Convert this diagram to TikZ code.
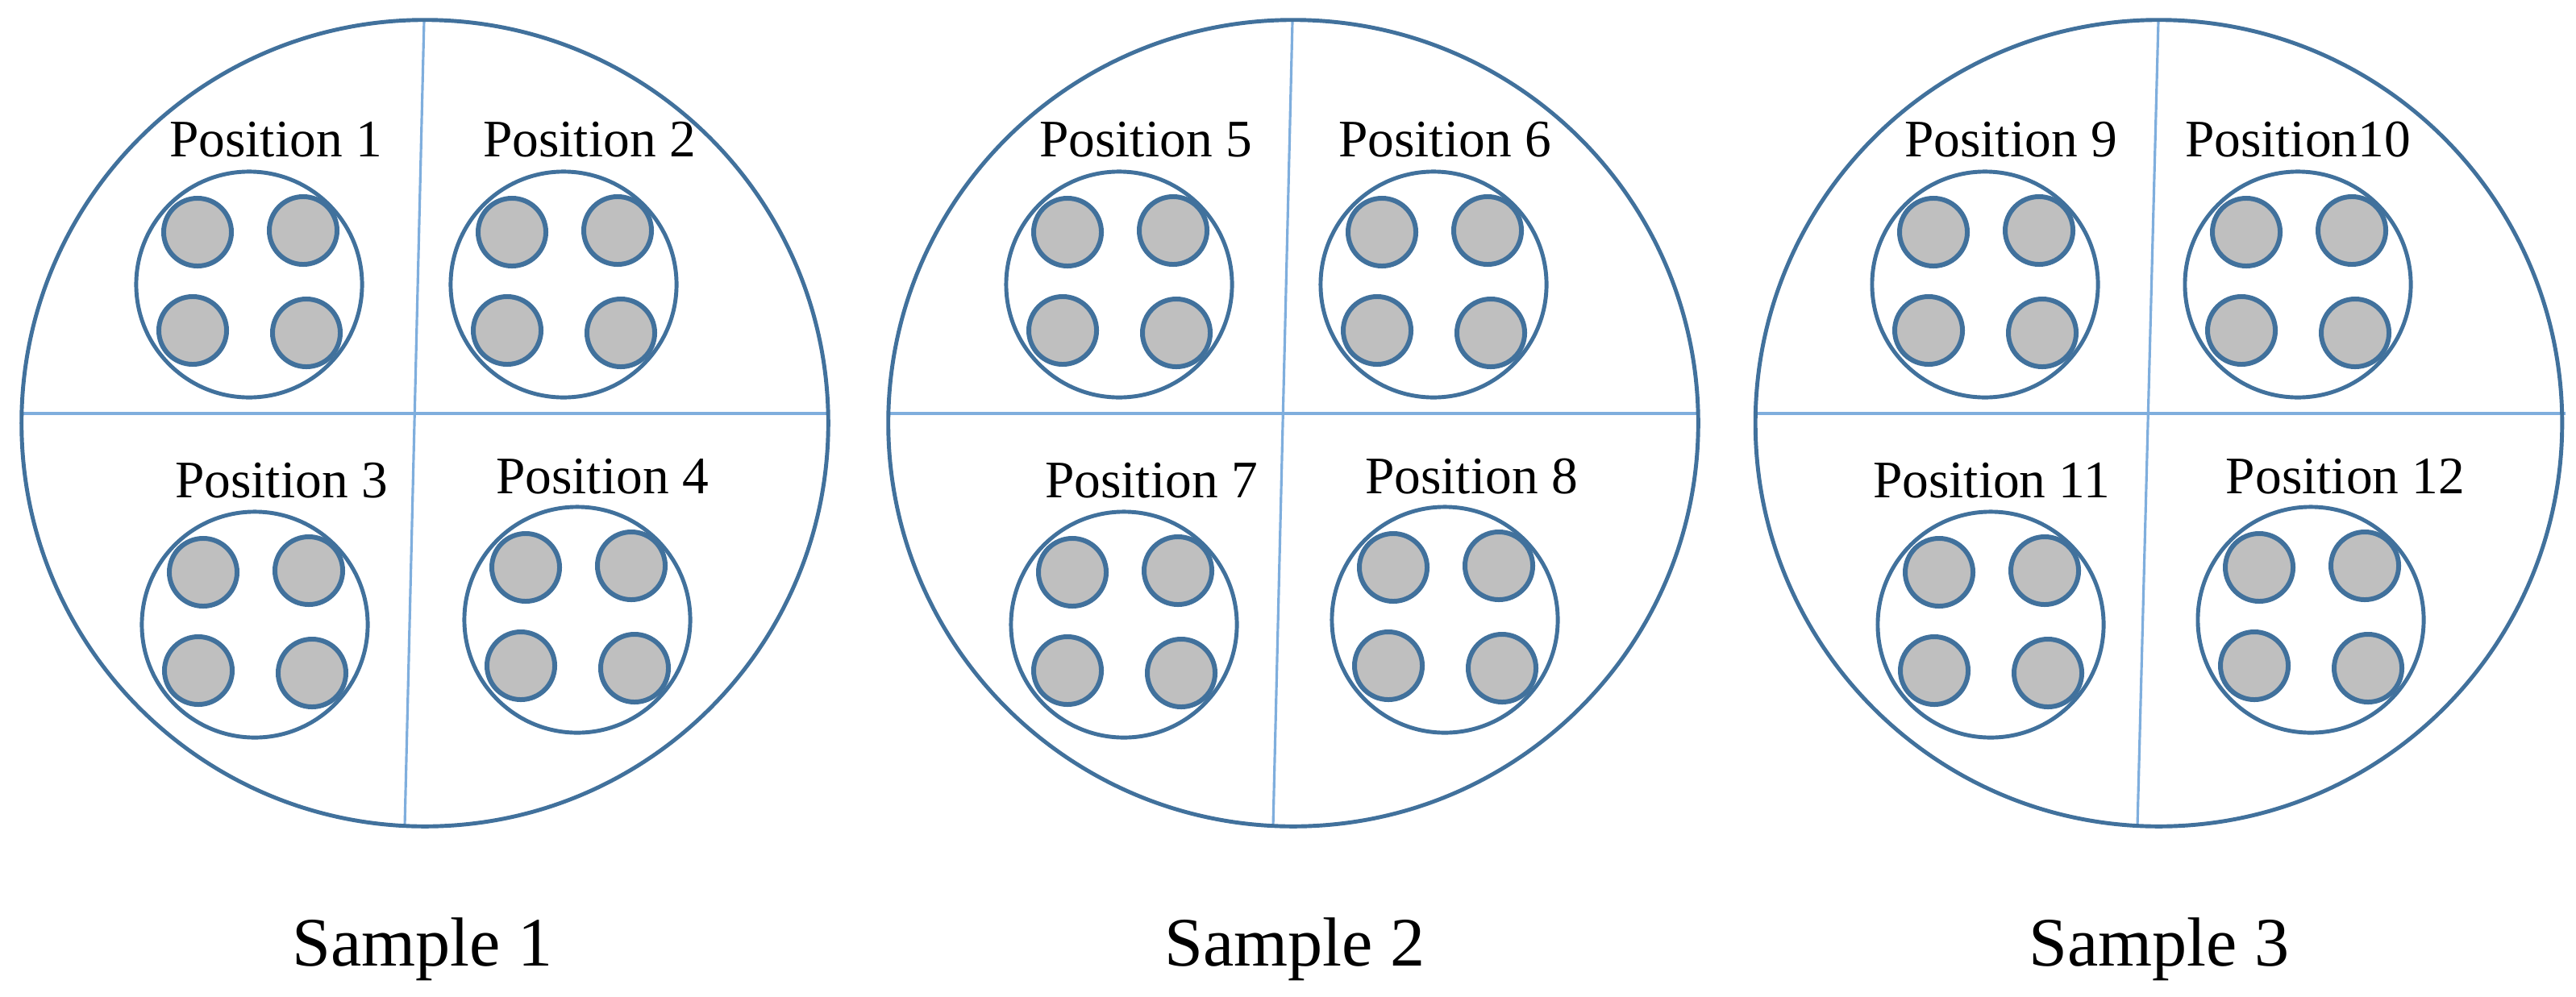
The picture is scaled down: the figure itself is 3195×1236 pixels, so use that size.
\documentclass[tikz,border=0pt]{standalone}
\usepackage{fontspec}
\setmainfont{Liberation Serif}
\usetikzlibrary{shapes.geometric}
\definecolor{ring}{HTML}{41719C}
\definecolor{divider}{HTML}{7FAEDD}
\definecolor{dotfill}{HTML}{BFBFBF}
\tikzset{
  bigring/.style={draw=ring, line width=1.4pt, ellipse, minimum width=10.0cm, minimum height=10cm, inner sep=0pt},
  group/.style={draw=ring, line width=1.4pt, circle, minimum size=2.8cm, inner sep=0pt},
  dot/.style={draw=ring, fill=dotfill, line width=1.7pt, circle, minimum size=0.84cm, inner sep=0pt},
  divline/.style={draw=divider, line width=0.9pt},
  poslabel/.style={anchor=base, font=\fontsize{18.6}{20}\selectfont, inner sep=0pt},
  samplelabel/.style={anchor=base, font=\fontsize{24.5}{28}\selectfont, inner sep=0pt},
}
\newcommand\mygroup[3]{%
  \node[group] (#1) at (#2,#3) {};
  \foreach \d/\dx/\dy in {a/-64/-65, b/67/-67, c/-70/57, d/71/60}
    \node[dot] (#1\d) at ([shift={(\dx,\dy)}]#1.center) {};
}
\begin{document}
\begin{tikzpicture}[x=0.01cm,y=-0.01cm]
\useasboundingbox (0,0) rectangle (3195,1236);
\fill[white] (0,0) rectangle (3195,1236);

% ---------- Sample 1 ----------
\coordinate (S1t) at (526,25);  \coordinate (S1b) at (502,1025);
\coordinate (S1l) at (27,513);  \coordinate (S1r) at (1027,513);
\draw[divline] (S1t) -- (S1b);
\draw[divline] (S1l) -- (S1r);
\node[bigring] (S1) at (527,525) {};
\mygroup{G1}{309}{353}
\mygroup{G2}{699}{353}
\mygroup{G3}{316}{775}
\mygroup{G4}{716}{769}
\node[poslabel] (P1) at (342,194) {Position 1};
\node[poslabel] (P2) at (731,194) {Position 2};
\node[poslabel] (P3) at (349,617) {Position 3};
\node[poslabel] (P4) at (747,612) {Position 4};
\node[samplelabel] (T1) at (524,1198) {Sample 1};

% ---------- Sample 2 ----------
\coordinate (S2t) at (1603,26);  \coordinate (S2b) at (1579,1025);
\coordinate (S2l) at (1102,513); \coordinate (S2r) at (2106,513);
\draw[divline] (S2t) -- (S2b);
\draw[divline] (S2l) -- (S2r);
\node[bigring, minimum width=10.04cm] (S2) at (1604,525) {};
\mygroup{G5}{1388}{353}
\mygroup{G6}{1778}{353}
\mygroup{G7}{1394}{775}
\mygroup{G8}{1792}{769}
\node[poslabel] (P5) at (1421,194) {Position 5};
\node[poslabel] (P6) at (1792,194) {Position 6};
\node[poslabel] (P7) at (1428,617) {Position 7};
\node[poslabel] (P8) at (1825,612) {Position 8};
\node[samplelabel] (T2) at (1606,1198) {Sample 2};

% ---------- Sample 3 ----------
\coordinate (S3t) at (2677,25);  \coordinate (S3b) at (2651,1025);
\coordinate (S3l) at (2177,513); \coordinate (S3r) at (3182,513);
\draw[divline] (S3t) -- (S3b);
\draw[divline] (S3l) -- (S3r);
\node[bigring] (S3) at (2677.5,525) {};
\mygroup{G9}{2462}{353}
\mygroup{G10}{2850}{353}
\mygroup{G11}{2469}{775}
\mygroup{G12}{2866}{769}
\node[poslabel] (P9) at (2494,194) {Position 9};
\node[poslabel] (P10) at (2850,194) {Position10};
\node[poslabel] (P11) at (2470,617) {Position 11};
\node[poslabel] (P12) at (2909,612) {Position 12};
\node[samplelabel] (T3) at (2678,1198) {Sample 3};
\end{tikzpicture}
\end{document}
